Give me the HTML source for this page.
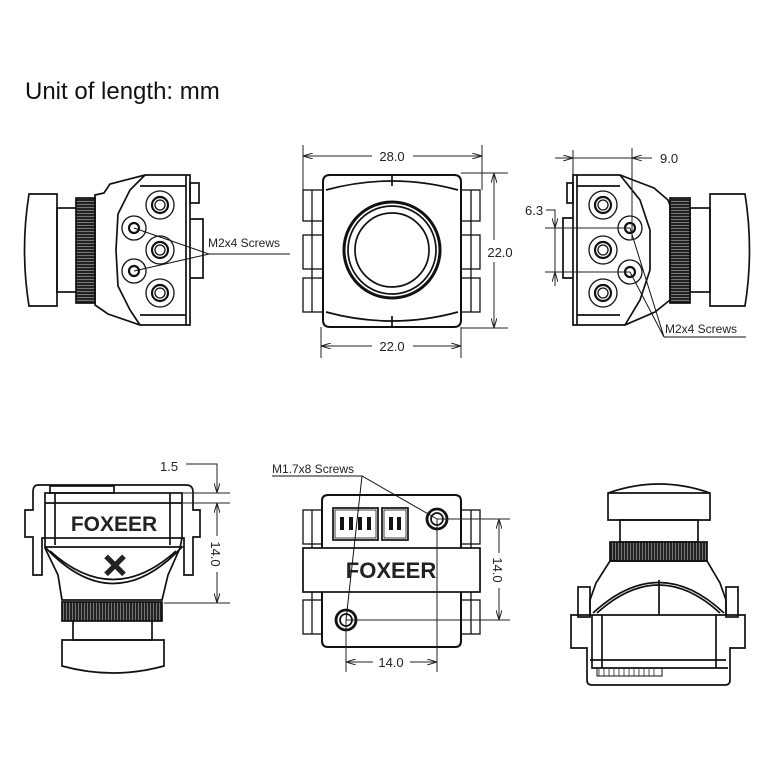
<!DOCTYPE html>
<html><head><style>html,body{margin:0;padding:0;background:#fff}svg{display:block}</style></head><body>
<svg width="768" height="768" viewBox="0 0 768 768" xmlns="http://www.w3.org/2000/svg" font-family="Liberation Sans, sans-serif">
<defs>
<marker id="a" markerWidth="10" markerHeight="6" refX="10" refY="3" orient="auto" markerUnits="userSpaceOnUse"><path d="M0,0 L10,3 L0,6" fill="none" stroke="#222" stroke-width="1"/></marker>
<pattern id="k" width="3" height="4" patternUnits="userSpaceOnUse"><rect width="3" height="4" fill="#222"/><rect width="1" height="4" fill="#777"/></pattern>
<pattern id="kv" width="4" height="3" patternUnits="userSpaceOnUse"><rect width="4" height="3" fill="#222"/><rect width="4" height="1" fill="#777"/></pattern>
</defs>
<rect width="768" height="768" fill="#fff"/>
<text x="25" y="99" font-size="24" fill="#111">Unit of length: mm</text>
<g fill="none" stroke="#111" stroke-width="1.7">
<path d="M29,194 L57,194 L57,306 L29,306 Q20,250 29,194 Z"/>
<rect x="57" y="208" width="20" height="84"/>
<rect x="76" y="198" width="19" height="105" fill="url(#kv)"/>
<path d="M95,195 L104,193 L110,184 L145,175 L190,175 L190,325 L140,325 L108,314 L95,305 Z"/>
<path d="M145,175 L130,190 L118,214 L116,250 L118,286 L130,310 L140,325"/>
<rect x="190" y="183" width="9" height="20"/>
<path d="M190,219 L203,219 L203,278 L190,278"/>
<line x1="186" y1="175" x2="186" y2="325"/><line x1="140" y1="186" x2="186" y2="186"/><line x1="140" y1="315" x2="186" y2="315"/>
<g stroke-width="1.3">
<circle cx="160" cy="205" r="14"/><circle cx="160" cy="205" r="8" stroke-width="2.2"/><circle cx="160" cy="205" r="5"/>
<circle cx="160" cy="250" r="14"/><circle cx="160" cy="250" r="8" stroke-width="2.2"/><circle cx="160" cy="250" r="5"/>
<circle cx="160" cy="293" r="14"/><circle cx="160" cy="293" r="8" stroke-width="2.2"/><circle cx="160" cy="293" r="5"/>
<circle cx="134" cy="228" r="12"/><circle cx="134" cy="228" r="5" stroke-width="2.2"/>
<circle cx="134" cy="271" r="12"/><circle cx="134" cy="271" r="5" stroke-width="2.2"/>
</g>
<path d="M134,228 L209,254 L134,271" stroke-width="1"/><line x1="209" y1="254" x2="290" y2="254" stroke-width="1"/>
<path d="M323,182 Q323,175 330,175 L454,175 Q461,175 461,182 L461,320 Q461,327 454,327 L330,327 Q323,327 323,320 Z" stroke-width="2"/>
<path d="M326,190 Q392,172 458,190 M326,312 Q392,330 458,312"/>
<line x1="392" y1="175" x2="392" y2="186"/><line x1="392" y1="316" x2="392" y2="327"/>
<circle cx="392" cy="250" r="48" stroke-width="3"/><circle cx="392" cy="250" r="44"/><circle cx="392" cy="250" r="37"/>
<g stroke-width="1.3">
<rect x="303" y="190" width="20" height="31"/><rect x="303" y="235" width="20" height="34"/><rect x="303" y="278" width="20" height="34"/>
<rect x="461" y="190" width="19" height="31"/><rect x="461" y="235" width="19" height="34"/><rect x="461" y="278" width="19" height="34"/>
<line x1="312" y1="190" x2="312" y2="312"/><line x1="471" y1="190" x2="471" y2="312"/>
</g>
<path d="M745,194 L710,194 L710,306 L745,306 Q754,250 745,194 Z"/>
<rect x="690" y="208" width="20" height="84"/>
<rect x="670" y="198" width="20" height="105" fill="url(#kv)"/>
<path d="M573,175 L620,175 L654,188 L668,200 L670,205 L670,300 L655,312 L625,325 L573,325 Z"/>
<path d="M620,175 L640,200 L650,230 L650,270 L640,300 L625,325"/>
<rect x="567" y="183" width="6" height="20"/>
<path d="M573,218 L563,218 L563,278 L573,278"/>
<line x1="577" y1="175" x2="577" y2="325"/><line x1="577" y1="186" x2="620" y2="186"/><line x1="577" y1="315" x2="620" y2="315"/>
<g stroke-width="1.3">
<circle cx="603" cy="205" r="14"/><circle cx="603" cy="205" r="8" stroke-width="2.2"/><circle cx="603" cy="205" r="5"/>
<circle cx="603" cy="250" r="14"/><circle cx="603" cy="250" r="8" stroke-width="2.2"/><circle cx="603" cy="250" r="5"/>
<circle cx="603" cy="293" r="14"/><circle cx="603" cy="293" r="8" stroke-width="2.2"/><circle cx="603" cy="293" r="5"/>
<circle cx="630" cy="228" r="12"/><circle cx="630" cy="228" r="5" stroke-width="2.2"/>
<circle cx="630" cy="272" r="12"/><circle cx="630" cy="272" r="5" stroke-width="2.2"/>
</g>
<path d="M630,228 L664,337 L630,272" stroke-width="1"/><line x1="664" y1="337" x2="746" y2="337" stroke-width="1"/>
<path d="M62,640 L164,640 L164,666 Q113,680 62,666 Z"/>
<rect x="73" y="608" width="79" height="32"/>
<rect x="62" y="602" width="100" height="19" fill="url(#k)"/>
<path d="M38,485 Q33,485 33,492 L33,510 L25,510 L25,537 L33,537 L33,575 L42,575 L42,538 L45,538 L45,548 L58,575 L62,600 L162,600 L168,575 L180,548 L182,538 L184,538 L184,575 L193,575 L193,537 L200,537 L200,510 L193,510 L193,492 Q193,485 186,485 Z"/>
<rect x="50" y="486" width="64" height="7"/>
<rect x="45" y="493" width="137" height="45"/>
<line x1="55" y1="493" x2="55" y2="545"/><line x1="170" y1="493" x2="170" y2="545"/>
<line x1="45" y1="503" x2="182" y2="503"/>
<path d="M45,547 L182,547 Q113,620 45,547"/><path d="M50,551 Q113,608 176,551"/>
<path d="M328,495 L455,495 Q461,495 461,501 L461,641 Q461,647 455,647 L328,647 Q322,647 322,641 L322,501 Q322,495 328,495 Z" stroke-width="2"/>
<g stroke-width="1.3">
<rect x="303" y="510" width="19" height="34"/><rect x="303" y="556" width="19" height="34"/><rect x="303" y="600" width="19" height="34"/>
<rect x="461" y="510" width="19" height="34"/><rect x="461" y="556" width="19" height="34"/><rect x="461" y="600" width="19" height="34"/>
<line x1="312" y1="510" x2="312" y2="634"/><line x1="471" y1="510" x2="471" y2="634"/>
</g>
<rect x="303" y="548" width="177" height="44" fill="#fff"/>
<rect x="333" y="508" width="45" height="32"/><rect x="335" y="510" width="41" height="28" stroke-width="0.8"/>
<rect x="382" y="508" width="26" height="32"/><rect x="384" y="510" width="22" height="28" stroke-width="0.8"/>
<circle cx="437" cy="519" r="10" stroke-width="2.8"/><circle cx="437" cy="519" r="6"/>
<circle cx="346" cy="620" r="10" stroke-width="2.8"/><circle cx="346" cy="620" r="6"/>
<path d="M272,476 L362,476 L437,519 M362,476 L346,620" stroke-width="1"/>
<path d="M608,493 Q659,475 710,493 L710,520 L608,520 Z"/><line x1="608" y1="493" x2="710" y2="493"/>
<rect x="620" y="520" width="78" height="22"/>
<rect x="610" y="542" width="97" height="19" fill="url(#k)"/>
<path d="M610,561 L707,561 L720,583 L726,600 L726,615 L745,615 L745,648 L730,648 L730,680 Q730,685 725,685 L592,685 Q587,685 587,680 L587,648 L571,648 L571,615 L590,615 L590,600 L596,583 Z"/>
<rect x="578" y="587" width="12" height="30"/><rect x="726" y="587" width="12" height="30"/>
<path d="M590,615 L726,615 M592,615 L592,668 L728,668 M602,615 L602,668 M716,615 L716,668 M590,660 L726,660"/>
<path d="M593,613 Q659,552 724,613"/><path d="M597,613 Q659,557 720,613"/><line x1="659" y1="580" x2="659" y2="615"/>
<rect x="597" y="668" width="65" height="8" stroke-width="1"/>
</g>
<g stroke="#222" stroke-width="0.8">
<line x1="599" y1="669" x2="599" y2="676"/><line x1="604" y1="669" x2="604" y2="676"/><line x1="609" y1="669" x2="609" y2="676"/><line x1="614" y1="669" x2="614" y2="676"/><line x1="619" y1="669" x2="619" y2="676"/><line x1="624" y1="669" x2="624" y2="676"/><line x1="629" y1="669" x2="629" y2="676"/><line x1="634" y1="669" x2="634" y2="676"/><line x1="639" y1="669" x2="639" y2="676"/><line x1="644" y1="669" x2="644" y2="676"/><line x1="649" y1="669" x2="649" y2="676"/><line x1="654" y1="669" x2="654" y2="676"/>
</g>
<g fill="#111">
<rect x="340" y="517" width="4" height="13"/><rect x="349" y="517" width="4" height="13"/><rect x="358" y="517" width="4" height="13"/><rect x="367" y="517" width="4" height="13"/>
<rect x="389" y="517" width="4" height="13"/><rect x="397" y="517" width="4" height="13"/>
</g>
<text x="114" y="531" font-size="21" font-weight="bold" text-anchor="middle" fill="#222">FOXEER</text>
<text x="391" y="578" font-size="22" font-weight="bold" text-anchor="middle" fill="#222">FOXEER</text>
<text x="115" y="577" font-size="32" font-weight="bold" text-anchor="middle" fill="#222" stroke="#222" stroke-width="1">✕</text>
<g stroke="#222" stroke-width="1" fill="none">
<line x1="303" y1="145" x2="303" y2="190"/><line x1="482" y1="145" x2="482" y2="190"/>
<line x1="372" y1="156" x2="303" y2="156" marker-end="url(#a)"/><line x1="413" y1="156" x2="482" y2="156" marker-end="url(#a)"/>
<line x1="461" y1="173" x2="508" y2="173"/><line x1="461" y1="328" x2="508" y2="328"/>
<line x1="494" y1="240" x2="494" y2="173" marker-end="url(#a)"/><line x1="494" y1="262" x2="494" y2="328" marker-end="url(#a)"/>
<line x1="321" y1="327" x2="321" y2="358"/><line x1="461" y1="327" x2="461" y2="358"/>
<line x1="372" y1="346" x2="321" y2="346" marker-end="url(#a)"/><line x1="413" y1="346" x2="461" y2="346" marker-end="url(#a)"/>
<line x1="573" y1="150" x2="573" y2="175"/><line x1="632" y1="148" x2="632" y2="240"/>
<line x1="555" y1="158" x2="573" y2="158" marker-end="url(#a)"/><line x1="652" y1="158" x2="632" y2="158" marker-end="url(#a)"/><line x1="573" y1="158" x2="632" y2="158"/>
<path d="M546,210 L555,210 L555,228"/>
<line x1="545" y1="228" x2="630" y2="228"/><line x1="545" y1="272" x2="630" y2="272"/>
<line x1="555" y1="214" x2="555" y2="228" marker-end="url(#a)"/><line x1="555" y1="286" x2="555" y2="272" marker-end="url(#a)"/><line x1="555" y1="228" x2="555" y2="272"/>
<path d="M186,464 L217,464 L217,493" marker-end="url(#a)"/>
<line x1="182" y1="493" x2="230" y2="493"/><line x1="182" y1="503" x2="230" y2="503"/><line x1="164" y1="603" x2="230" y2="603"/>
<line x1="217" y1="536" x2="217" y2="503" marker-end="url(#a)"/><line x1="217" y1="572" x2="217" y2="603" marker-end="url(#a)"/>
<line x1="437" y1="519" x2="510" y2="519"/><line x1="346" y1="620" x2="510" y2="620"/>
<line x1="499" y1="553" x2="499" y2="519" marker-end="url(#a)"/><line x1="499" y1="588" x2="499" y2="620" marker-end="url(#a)"/>
<line x1="437" y1="519" x2="437" y2="672"/><line x1="346" y1="620" x2="346" y2="672"/>
<line x1="373" y1="662" x2="346" y2="662" marker-end="url(#a)"/><line x1="410" y1="662" x2="437" y2="662" marker-end="url(#a)"/>
</g>
<g font-size="13" fill="#222">
<text x="392" y="161" text-anchor="middle">28.0</text>
<text x="500" y="257" text-anchor="middle">22.0</text>
<text x="392" y="351" text-anchor="middle">22.0</text>
<text x="660" y="163">9.0</text>
<text x="525" y="215">6.3</text>
<text x="208" y="247" font-size="12">M2x4 Screws</text>
<text x="665" y="333" font-size="12">M2x4 Screws</text>
<text x="160" y="471">1.5</text>
<text x="272" y="473" font-size="12">M1.7x8 Screws</text>
<text x="391" y="667" text-anchor="middle">14.0</text>
<text transform="translate(211,554) rotate(90)" text-anchor="middle">14.0</text>
<text transform="translate(493,570) rotate(90)" text-anchor="middle">14.0</text>
</g>
</svg>
</body></html>
